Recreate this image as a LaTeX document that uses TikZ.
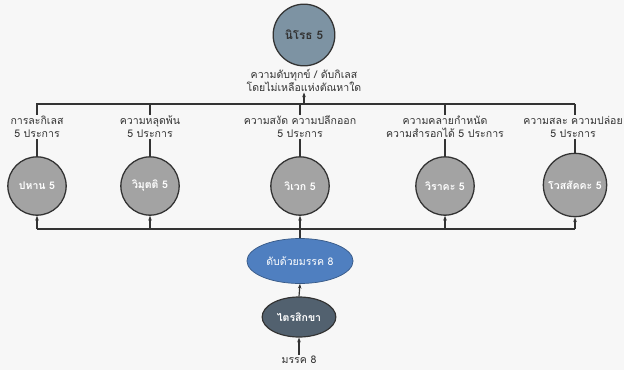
\documentclass[tikz,border=0pt]{standalone}
\usepackage{fontspec}
\newfontfamily\thaifont[Script=Thai]{Loma}
\usetikzlibrary{arrows.meta,shapes.geometric,positioning,calc}

\definecolor{slate}{HTML}{7D93A3}
\definecolor{dimgray}{HTML}{A3A3A3}
\definecolor{pathblue}{HTML}{4F7FC0}
\definecolor{deepslate}{HTML}{52616F}
\definecolor{edge}{HTML}{333333}

\begin{document}
\begin{tikzpicture}[x=0.03cm, y=-0.03cm,
    every node/.style={font=\thaifont\small, text=black!80},
    fold/.style={circle, draw=edge, line width=1.1pt, minimum size=1.75cm, inner sep=0pt, fill=dimgray, text=white, font=\thaifont\small\bfseries},
    lbl/.style={align=center, inner sep=1pt, font=\thaifont\small},
    link/.style={draw=edge, line width=1pt},
    arr/.style={draw=edge, line width=1pt, -{Stealth[length=4pt]}}
]
\useasboundingbox[fill=black!3] (0,0) rectangle (624,370);

% top node and its caption
\node[circle, draw=edge, line width=1.1pt, minimum size=1.85cm, fill=slate, font=\thaifont\bfseries] (nir) at (304,35) {นิโรธ 5};
\node[lbl] (cap) at (304,80) {ความดับทุกข์ / ดับกิเลส\\โดยไม่เหลือแห่งตัณหาใด};

% the five folds
\node[fold] (c1) at (37,186) {ปหาน 5};
\node[fold] (c2) at (150,186) {วิมุตติ 5};
\node[fold] (c3) at (300,186) {วิเวก 5};
\node[fold] (c4) at (445,186) {วิราคะ 5};
\node[fold, minimum size=1.9cm] (c5) at (575,185) {โวสสัคคะ 5};

\node[lbl] (l1) at (37,127) {การละกิเลส\\5 ประการ};
\node[lbl] (l2) at (150,127) {ความหลุดพ้น\\5 ประการ};
\node[lbl] (l3) at (300,127) {ความสงัด ความปลีกออก\\5 ประการ};
\node[lbl] (l4) at (445,127) {ความคลายกำหนัด\\ความสำรอกได้ 5 ประการ};
\node[lbl] (l5) at (573,127) {ความสละ ความปล่อย\\5 ประการ};

% path at the bottom
\node[ellipse, draw=pathblue!70!black, line width=0.6pt, fill=pathblue, text=white, minimum width=2.75cm, minimum height=1.35cm] (mag) at (300,261) {ดับด้วยมรรค 8};
\node[ellipse, draw=edge, line width=1pt, fill=deepslate, text=white, font=\thaifont\small\bfseries, minimum width=1.85cm, minimum height=1.2cm] (tri) at (299,317) {ไตรสิกขา};
\node[lbl] (m8) at (299,360) {มรรค 8};

% bars
\coordinate (tl) at (36,104);
\coordinate (tr) at (575,104);
\coordinate (bl) at (37,229);
\coordinate (br) at (575,229);
\draw[link] (tl) -- (tr);
\draw[link] (bl) -- (br);

\draw[arr] (cap.south |- tl) -- (cap.south);
\foreach \i in {1,...,5}{
  \draw[link] (c\i.north |- tl) -- (c\i.north |- l\i.north);
  \draw[link] (c\i.north |- l\i.south) -- (c\i.north);
  \draw[arr] (c\i.south |- bl) -- (c\i.south);
}
\draw[link] (mag.north) -- (mag.north |- bl);
\draw[arr] (tri.north) -- (mag.south);
\draw[arr] (m8.north) -- (tri.south);
\end{tikzpicture}
\end{document}
